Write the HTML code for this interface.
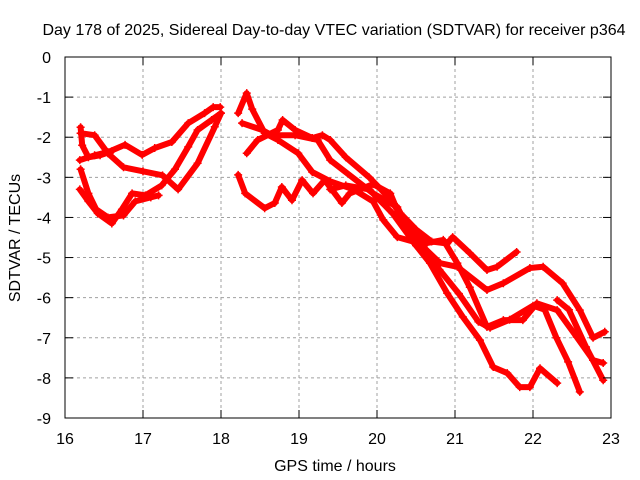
<!DOCTYPE html>
<html><head><meta charset="utf-8"><style>
body{margin:0;background:#fff;}
svg{display:block;font-family:"Liberation Sans",sans-serif;}
</style></head><body>
<svg id="chart" width="640" height="480">
<text x="334" y="35" font-size="16" text-anchor="middle">Day 178 of 2025, Sidereal Day-to-day VTEC variation (SDTVAR) for receiver p364</text>
<text x="335" y="471" font-size="16" text-anchor="middle">GPS time / hours</text>
<text transform="translate(20,238) rotate(-90)" font-size="16" text-anchor="middle">SDTVAR / TECUs</text>
<g id="grid"></g><g id="data"></g>
<rect x="65" y="57" width="546" height="361" fill="none" stroke="#000" stroke-width="1"/>
<g id="ticks"></g>
</svg>
<script>
const xTicks=[16,17,18,19,20,21,22,23];
const yTicks=[0,-1,-2,-3,-4,-5,-6,-7,-8,-9];
const L1h=[16.19,16.38,16.55,16.77,16.99,17.15,17.37,17.58,17.79,17.9,17.99];
const L1v=[-2.57,-2.45,-2.37,-2.19,-2.44,-2.27,-2.12,-1.65,-1.4,-1.25,-1.25];
const L2h=[16.2,16.38,16.55,16.75,17.0,17.25,17.45,17.7,17.92,18.0];
const L2v=[-1.9,-1.95,-2.4,-2.75,-2.85,-2.95,-3.3,-2.65,-1.74,-1.4];
const L3h=[16.19,16.3,16.42,16.6,16.73,16.86,17.03,17.24,17.41,17.58,17.7,17.88,18.0];
const L3v=[-3.3,-3.6,-3.9,-4.15,-3.8,-3.4,-3.45,-3.2,-2.8,-2.24,-1.82,-1.57,-1.4];
const L4h=[16.2,16.3,16.4,16.55,16.75,16.9,17.1,17.2];
const L4v=[-2.8,-3.4,-3.8,-4.0,-3.95,-3.6,-3.5,-3.45];
const L5h=[16.2,16.22,16.3,16.45,16.6];
const L5v=[-1.75,-2.2,-2.5,-2.45,-2.35];
const R1h=[18.22,18.33,18.4,18.56,18.73,18.99,19.17,19.4,19.7,19.95,20.08,20.26,20.46,20.68,20.9,21.1,21.32,21.49,21.67,21.83,21.96,22.09,22.31];
const R1v=[-1.4,-0.9,-1.3,-1.9,-2.07,-2.4,-2.87,-3.1,-3.3,-3.6,-4.06,-4.49,-4.6,-5.14,-5.89,-6.48,-7.06,-7.73,-7.88,-8.23,-8.23,-7.76,-8.13];
const R2h=[18.33,18.47,18.73,18.79,18.95,19.17,19.3,19.4,19.6,19.9,20.1,20.3,20.5,20.7,20.9,20.97,21.19,21.41,21.54,21.79];
const R2v=[-2.4,-2.07,-1.82,-1.57,-1.82,-2.02,-1.95,-2.07,-2.5,-3.0,-3.4,-3.9,-4.3,-4.6,-4.65,-4.49,-4.89,-5.31,-5.23,-4.86];
const R3h=[18.27,18.53,18.65,18.95,19.24,19.4,19.95,20.26,20.46,20.81,21.03,21.41,21.62,21.96,22.13,22.38,22.6,22.77,22.92];
const R3v=[-1.65,-1.82,-1.95,-1.95,-2.07,-2.57,-3.4,-3.74,-4.49,-5.14,-5.23,-5.81,-5.64,-5.26,-5.23,-5.64,-6.31,-7.0,-6.85];
const R4h=[18.22,18.31,18.56,18.69,18.78,18.91,19.04,19.18,19.33,19.55,19.65,19.95,20.17,20.33,20.64,20.85,21.03,21.19,21.41,21.62,21.87,22.05,22.31,22.56,22.77,22.9];
const R4v=[-2.94,-3.4,-3.77,-3.64,-3.24,-3.57,-3.07,-3.4,-3.07,-3.64,-3.4,-3.17,-3.4,-4.14,-4.64,-4.56,-5.14,-5.74,-6.73,-6.56,-6.56,-6.14,-6.31,-6.98,-7.56,-7.63];
const R5h=[19.4,19.6,19.9,20.2,20.5,20.8,21.05,21.3,21.45,21.7,22.0,22.15,22.3,22.45,22.6];
const R5v=[-3.3,-3.2,-3.3,-3.9,-4.7,-5.3,-5.9,-6.6,-6.75,-6.55,-6.2,-6.3,-7.0,-7.6,-8.35];
const R6h=[22.31,22.46,22.68,22.9];
const R6v=[-6.06,-6.3,-7.23,-8.06];
const seriesH=[L1h,L2h,L3h,L4h,L5h,R1h,R2h,R3h,R4h,R5h,R6h];
const seriesV=[L1v,L2v,L3v,L4v,L5v,R1v,R2v,R3v,R4v,R5v,R6v];
const X0=65,X1=611,Y0=57,Y1=418;
const xs=h=>X0+(h-16)/7*(X1-X0);
const ys=v=>Y0+(0-v)/9*(Y1-Y0);
const NS='http://www.w3.org/2000/svg';
function mk(t,a,p){const e=document.createElementNS(NS,t);for(const k in a)e.setAttribute(k,a[k]);p.appendChild(e);return e;}
const grid=document.getElementById('grid'),ticks=document.getElementById('ticks'),data=document.getElementById('data');
xTicks.forEach(t=>{const x=xs(t);
 if(t>16&&t<23){const g=mk('line',{x1:x,x2:x,y1:Y0,y2:Y1,stroke:'#a0a0a0','stroke-dasharray':'3,3'},grid);
 
 }
 mk('line',{x1:x,x2:x,y1:Y1,y2:Y1-8,stroke:'#000'},ticks);
 mk('line',{x1:x,x2:x,y1:Y0,y2:Y0+8,stroke:'#000'},ticks);
 const l=mk('text',{x:x,y:444,'font-size':16,'text-anchor':'middle'},ticks);l.textContent=t;
 
 });
yTicks.forEach(t=>{const y=ys(t);
 if(t<0&&t>-9){const g=mk('line',{x1:X0,x2:X1,y1:y,y2:y,stroke:'#a0a0a0','stroke-dasharray':'3,3'},grid);
 
 }
 mk('line',{x1:X0,x2:X0+8,y1:y,y2:y,stroke:'#000'},ticks);
 mk('line',{x1:X1,x2:X1-8,y1:y,y2:y,stroke:'#000'},ticks);
 const l=mk('text',{x:51,y:y+6,'font-size':16,'text-anchor':'end'},ticks);l.textContent=t;
 
 });
seriesH.forEach((H,i)=>{const V=seriesV[i];
 const g=mk('g',{},data);
 
 
 const d=H.map((h,j)=>(j?'L':'M')+xs(h).toFixed(1)+' '+ys(V[j]).toFixed(1)).join(' ');
 mk('path',{d:d,fill:'none',stroke:'#ff0000','stroke-width':6,'stroke-linejoin':'round','stroke-linecap':'round'},g);
 H.forEach((h,j)=>{const x=xs(h),y=ys(V[j]);
  const m=mk('path',{d:`M${x-4} ${y}H${x+4}M${x} ${y-4}V${y+4}`,stroke:'#ff0000','stroke-width':1.5},g);
  
  });
});
</script>
</body></html>
